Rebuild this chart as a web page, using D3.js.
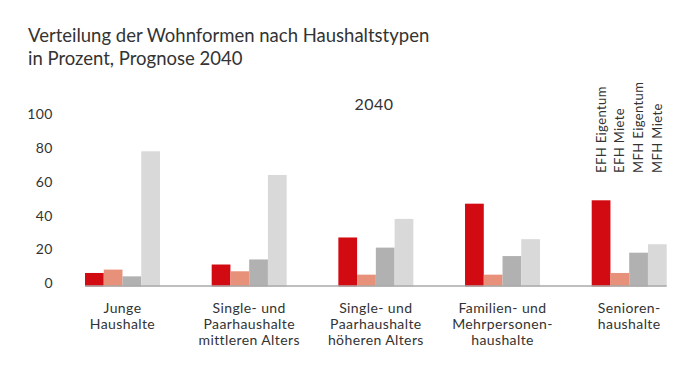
<!DOCTYPE html>
<html>
<head>
<meta charset="utf-8">
<script src="https://cdn.jsdelivr.net/npm/d3@7"></script>
<style>
  body { margin: 0; background: #fff; }
  text { font-family: Lato, "Noto Sans", sans-serif; fill: #333; }
</style>
</head>
<body>
<script>
// Wohnformen nach Haushaltstypen, Prognose 2040 (in %)
const categories = [
  ['Junge', 'Haushalte'],
  ['Single- und', 'Paarhaushalte', 'mittleren Alters'],
  ['Single- und', 'Paarhaushalte', 'höheren Alters'],
  ['Familien- und', 'Mehrpersonen-', 'haushalte'],
  ['Senioren-', 'haushalte']
];
const seriesNames = ['EFH Eigentum', 'EFH Miete', 'MFH Eigentum', 'MFH Miete'];
const efhEigentum = [7, 12, 28, 48, 50];
const efhMiete    = [9, 8, 6, 6, 7];
const mfhEigentum = [5, 15, 22, 17, 19];
const mfhMiete    = [79, 65, 39, 27, 24];
const yTicks = [0, 20, 40, 60, 80, 100];
const colors = ['#d20a11', '#e8917a', '#b1b1b1', '#d9d9d9'];

const values = [efhEigentum, efhMiete, mfhEigentum, mfhMiete];
const w = 690, h = 372;

const svg = d3.select('body')
  .append('svg')
  .attr('width', w)
  .attr('height', h);

// title
svg.append('text')
  .attr('x', 28).attr('y', 42)
  .style('font-size', '18.5px')
  .text('Verteilung der Wohnformen nach Haushaltstypen');
svg.append('text')
  .attr('x', 28).attr('y', 65)
  .style('font-size', '18.5px')
  .text('in Prozent, Prognose 2040');

// scales
const x = d3.scaleBand()
  .domain(d3.range(categories.length))
  .range([85, 666.7])
  .paddingInner(0.408)
  .paddingOuter(0);

const xs = d3.scaleBand()
  .domain(d3.range(seriesNames.length))
  .range([0, x.bandwidth()]);

const y = d3.scaleLinear()
  .domain([0, 100])
  .range([284.8, 115.8]);

// y axis labels (no line, no ticks)
const yAxis = svg.append('g')
  .attr('transform', 'translate(53,0)')
  .call(d3.axisLeft(y).tickValues(yTicks).tickSize(0).tickPadding(0));
yAxis.select('.domain').remove();
yAxis.selectAll('text')
  .attr('dy', '0.2em')
  .style('font-size', '14px')
  .style('font-family', 'Lato, "Noto Sans", sans-serif')
  .style('letter-spacing', '0.5px')
  .attr('fill', '#333');

// bars
const groups = svg.selectAll('g.grp')
  .data(categories)
  .enter()
  .append('g')
  .attr('class', 'grp')
  .attr('transform', (d, i) => `translate(${x(i)},0)`);

groups.selectAll('rect')
  .data((d, i) => values.map((s, k) => ({ k, v: s[i] })))
  .enter()
  .append('rect')
  .attr('x', d => xs(d.k))
  .attr('width', xs.bandwidth())
  .attr('y', d => y(d.v))
  .attr('height', d => 286.5 - y(d.v))
  .attr('fill', d => colors[d.k]);

// baseline
svg.append('line')
  .attr('x1', x(0)).attr('x2', x(categories.length - 1) + x.bandwidth())
  .attr('y1', 286).attr('y2', 286)
  .attr('stroke', '#aaa')
  .attr('stroke-width', 1.5);

// category labels
groups.append('text')
  .attr('text-anchor', 'middle')
  .style('font-size', '14px')
  .style('letter-spacing', '0.4px')
  .selectAll('tspan')
  .data(d => d)
  .enter()
  .append('tspan')
  .attr('x', x.bandwidth() / 2)
  .attr('y', (d, j) => 312.5 + j * 16)
  .text(d => d);

// year label
svg.append('text')
  .attr('x', 374).attr('y', 110)
  .attr('text-anchor', 'middle')
  .style('font-size', '16px')
  .style('letter-spacing', '0.5px')
  .text('2040');

// legend: rotated series names above the last group
const last = categories.length - 1;
svg.selectAll('text.legend')
  .data(seriesNames)
  .enter()
  .append('text')
  .attr('class', 'legend')
  .style('font-size', '13px')
  .style('letter-spacing', '0.4px')
  .attr('transform', (d, k) =>
    `translate(${x(last) + xs(k) + xs.bandwidth() / 2 + 4.5},173) rotate(-90)`)
  .text(d => d);
</script>
</body>
</html>
